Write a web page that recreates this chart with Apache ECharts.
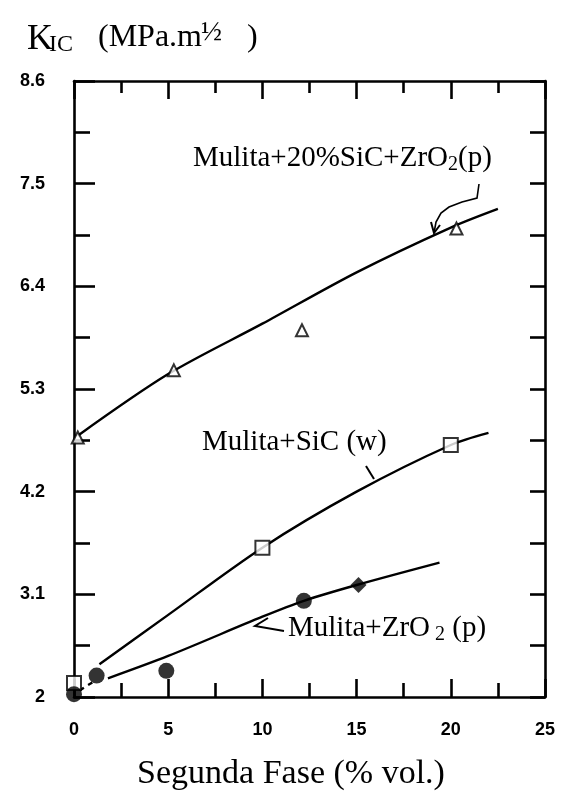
<!DOCTYPE html>
<html>
<head>
<meta charset="utf-8">
<script src="https://cdn.jsdelivr.net/npm/echarts@6/dist/echarts.min.js"></script>
<style>
  html, body { margin: 0; padding: 0; background: #fff; }
  #chart { width: 561px; height: 796px; }
</style>
</head>
<body>
<div id="chart"></div>
<script>
// measured points (Segunda Fase % vol. , KIC)
var triX = [0.2, 5.3, 12.1, 20.3];
var triY = [4.78, 5.5, 5.93, 7.02];
var sqX = [0, 10, 20];
var sqY = [2.15, 3.6, 4.7];
var circX = [0, 1.2, 4.9, 12.2];
var circY = [2.03, 2.23, 2.28, 3.03];
var diaX = [15.1];
var diaY = [3.2];

// hand drawn trend curves
var triCurveX = [0.2, 5, 10, 15, 20, 22.5];
var triCurveY = [4.8, 5.46, 6.0, 6.55, 7.03, 7.23];
var sicCurveX = [1.35, 5, 10, 15, 20, 22];
var sicCurveY = [2.35, 2.88, 3.6, 4.2, 4.7, 4.83];
var zrCurveX = [1.8, 5, 10, 12.2, 15, 19.4];
var zrCurveY = [2.2, 2.44, 2.86, 3.03, 3.2, 3.44];
var zrDashX = [0.3, 1.0];
var zrDashY = [2.07, 2.16];

// axis ticks
var xTicks = [0, 5, 10, 15, 20, 25];
var yTicks = [2, 3.1, 4.2, 5.3, 6.4, 7.5, 8.6];

function pairs(xs, ys) {
    return xs.map(function (x, i) { return [x, ys[i]]; });
}

var chart = echarts.init(document.getElementById('chart'));

var lineStyle = { color: '#000', width: 2.4 };
var tickStyle = { color: '#000', width: 2.6 };
var serif = 'Liberation Serif';

var axisBase = {
    axisLine: { show: true, onZero: false, lineStyle: { color: '#000', width: 2.6 } },
    splitLine: { show: false }
};

var option = {
    backgroundColor: '#fff',
    animation: false,
    grid: { left: 74, right: 16, top: 81, bottom: 99 },
    xAxis: [
        Object.assign({}, axisBase, {
            type: 'value', position: 'bottom',
            min: xTicks[0], max: xTicks[xTicks.length - 1], interval: 5,
            axisTick: { inside: true, length: 18, lineStyle: tickStyle },
            minorTick: { show: true, splitNumber: 2, length: 14, lineStyle: tickStyle },
            axisLabel: {
                margin: 24, color: '#000', fontFamily: 'Liberation Sans',
                fontWeight: 'bold', fontSize: 18
            }
        }),
        Object.assign({}, axisBase, {
            type: 'value', position: 'top',
            min: xTicks[0], max: xTicks[xTicks.length - 1], interval: 5,
            axisTick: { inside: true, length: 18, lineStyle: tickStyle },
            minorTick: { show: true, splitNumber: 2, length: 12, lineStyle: tickStyle },
            axisLabel: { show: false }
        })
    ],
    yAxis: [
        Object.assign({}, axisBase, {
            type: 'value', position: 'left',
            min: yTicks[0], max: yTicks[yTicks.length - 1], interval: 1.1,
            axisTick: { inside: true, length: 21, lineStyle: tickStyle },
            minorTick: { show: true, splitNumber: 2, length: 16, lineStyle: tickStyle },
            axisLabel: {
                margin: 29, color: '#000', fontFamily: 'Liberation Sans',
                fontWeight: 'bold', fontSize: 18,
                formatter: function (v) {
                    return Math.abs(v - 2) < 1e-6 ? '2' : v.toFixed(1);
                }
            }
        }),
        Object.assign({}, axisBase, {
            type: 'value', position: 'right',
            min: yTicks[0], max: yTicks[yTicks.length - 1], interval: 1.1,
            axisTick: { inside: true, length: 15, lineStyle: tickStyle },
            minorTick: { show: true, splitNumber: 2, length: 15, lineStyle: tickStyle },
            axisLabel: { show: false }
        })
    ],
    series: [
        {
            type: 'line', data: pairs(triCurveX, triCurveY), smooth: 0.3,
            showSymbol: false, symbol: 'none', lineStyle: lineStyle, z: 2
        },
        {
            type: 'line', data: pairs(sicCurveX, sicCurveY), smooth: 0.3,
            showSymbol: false, symbol: 'none', lineStyle: lineStyle, z: 2
        },
        {
            type: 'line', data: pairs(zrCurveX, zrCurveY), smooth: 0.3,
            showSymbol: false, symbol: 'none', lineStyle: lineStyle, z: 2
        },
        {
            type: 'line', data: pairs(zrDashX, zrDashY), showSymbol: false, symbol: 'none',
            lineStyle: { color: '#000', width: 2.4, type: [5, 5] }, z: 2
        },
        {
            type: 'scatter', data: pairs(triX, triY), symbol: 'triangle', symbolSize: 12,
            itemStyle: { color: '#fff', borderColor: '#000', borderWidth: 2 }, z: 5
        },
        {
            type: 'scatter', data: pairs(sqX, sqY), symbol: 'rect', symbolSize: 14,
            itemStyle: { color: '#fff', borderColor: '#000', borderWidth: 2 }, z: 5
        },
        {
            type: 'scatter', data: pairs(circX, circY), symbol: 'circle', symbolSize: 16,
            itemStyle: { color: '#000' }, z: 5
        },
        {
            type: 'scatter', data: pairs(diaX, diaY), symbol: 'diamond', symbolSize: 16,
            itemStyle: { color: '#000' }, z: 5
        }
    ],
    graphic: [
        // y axis title  K_IC (MPa.m^1/2 )
        { type: 'text', left: 27, top: 22, style: { text: 'K', font: '36px ' + serif, fill: '#000' } },
        { type: 'text', left: 49, top: 33, style: { text: 'IC', font: '24px ' + serif, fill: '#000' } },
        { type: 'text', left: 98, top: 22, style: { text: '(MPa.m', font: '32px ' + serif, fill: '#000' } },
        { type: 'text', left: 201, top: 19, style: { text: '\u00BD', font: '28px ' + serif, fill: '#000' } },
        { type: 'text', left: 247, top: 22, style: { text: ')', font: '32px ' + serif, fill: '#000' } },
        // x axis title
        {
            type: 'text', x: 291, y: 774,
            style: { text: 'Segunda Fase (% vol.)', font: '34px ' + serif, fill: '#000', align: 'center', verticalAlign: 'middle' }
        },
        // curve labels
        {
            type: 'text', x: 193, y: 158,
            style: {
                text: '{n|Mulita+20%SiC+ZrO}{s|2}{n|(p)}', verticalAlign: 'middle',
                rich: {
                    n: { font: '29px ' + serif, fill: '#000' },
                    s: { font: '20px ' + serif, fill: '#000', padding: [14, 0, 0, 0] }
                }
            }
        },
        {
            type: 'text', x: 202, y: 442,
            style: { text: 'Mulita+SiC (w)', font: '29px ' + serif, fill: '#000', verticalAlign: 'middle' }
        },
        {
            type: 'text', x: 288, y: 628,
            style: {
                text: '{n|Mulita+ZrO}{s| 2}{n| (p)}', verticalAlign: 'middle',
                rich: {
                    n: { font: '29px ' + serif, fill: '#000' },
                    s: { font: '20px ' + serif, fill: '#000', padding: [14, 0, 0, 0] }
                }
            }
        },
        // leader marks
        {
            type: 'polyline', z: 10,
            shape: { points: [[479, 184], [477, 198], [462, 202], [449, 207], [441, 213], [436, 222], [434, 233]] },
            style: { stroke: '#000', lineWidth: 1.6, fill: null }
        },
        {
            type: 'polyline', z: 10,
            shape: { points: [[431, 222], [434, 233], [440, 225]] },
            style: { stroke: '#000', lineWidth: 2, fill: null }
        },
        {
            type: 'polyline', z: 10,
            shape: { points: [[366, 466], [374, 479]] },
            style: { stroke: '#000', lineWidth: 2, fill: null }
        },
        {
            type: 'polyline', z: 10,
            shape: { points: [[268, 618], [255, 626], [284, 631]] },
            style: { stroke: '#000', lineWidth: 2, fill: null }
        }
    ]
};

chart.setOption(option);
</script>
</body>
</html>
